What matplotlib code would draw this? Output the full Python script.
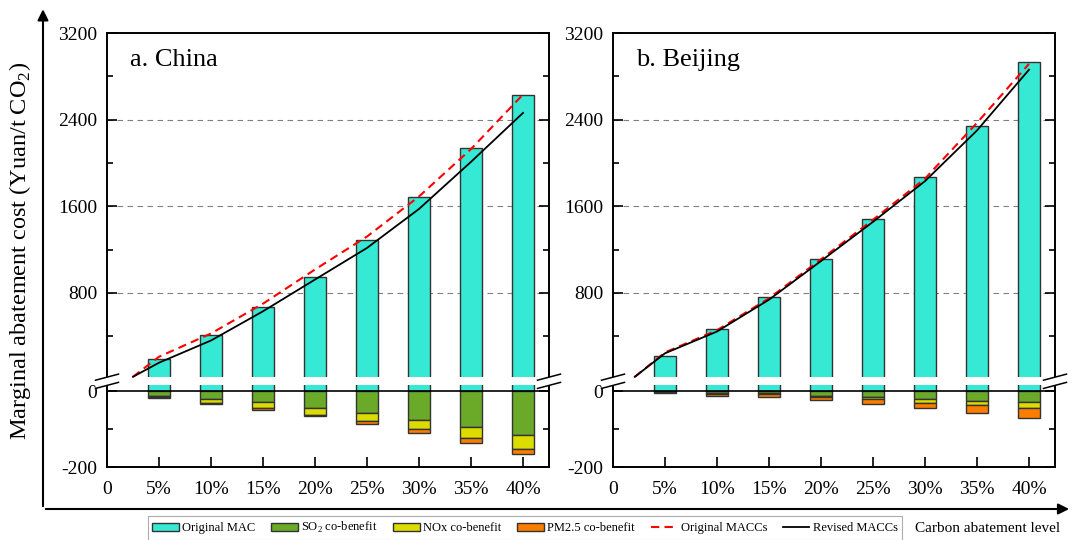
import numpy as np
import matplotlib.pyplot as plt
from matplotlib.patches import Patch, FancyArrowPatch, Polygon
from matplotlib.lines import Line2D

plt.rcParams['font.family'] = ['Liberation Serif', 'DejaVu Serif']
plt.rcParams['mathtext.fontset'] = 'custom'
plt.rcParams['mathtext.rm'] = 'Liberation Serif'

# ---- data ----
levels = np.array([5, 10, 15, 20, 25, 30, 35, 40])
level_labels = ['0', '5%', '10%', '15%', '20%', '25%', '30%', '35%', '40%']

china_mac = np.array([188, 415, 668, 950, 1292, 1686, 2138, 2630])
china_so2 = np.array([-12, -22, -30, -45, -58, -76, -94, -116])
china_nox = np.array([-4, -10, -15, -17, -20, -24, -29, -37])
china_pm = np.array([-3, -3, -4, -3, -9, -10, -13, -14])
china_cx = [2.5, 5, 10, 15, 20, 25, 30, 35, 40]
china_orig = [25, 210, 425, 700, 1016, 1320, 1690, 2128, 2632]
china_rev = [25, 155, 360, 630, 923, 1215, 1575, 2010, 2462]

bj_mac = np.array([218, 465, 765, 1109, 1484, 1869, 2345, 2930])
bj_so2 = np.array([-2, -4, -5, -12, -15, -20, -25, -30])
bj_nox = np.array([-1, -3, -4, -5, -7, -11, -13, -16])
bj_pm = np.array([-2, -5, -8, -7, -11, -13, -19, -25])
bj_cx = [2.1, 5, 10, 15, 20, 25, 30, 35, 40]
bj_orig = [25, 250, 455, 750, 1110, 1475, 1855, 2370, 2915]
bj_rev = [25, 242, 443, 737, 1094, 1456, 1832, 2300, 2861]

c_mac = '#35E9D4'
c_so2 = '#6BAA28'
c_nox = '#DCDC00'
c_pm = '#FA7D00'
edge = '#333333'

# ---- broken y axis as a piecewise linear scale (units = pixels) ----
H = 434.0
K_LOW = 0.38
LB, UB = 15.0, 23.0
P_LB = (LB + 200) * K_LOW
P_UB = 90.0
K_UP = (H - P_UB) / (3200 - UB)


def fwd(y):
    y = np.asarray(y, dtype=float)
    low = (y + 200) * K_LOW
    mid = P_LB + (y - LB) * (P_UB - P_LB) / (UB - LB)
    up = P_UB + (y - UB) * K_UP
    return np.where(y <= LB, low, np.where(y < UB, mid, up))


def inv(p):
    p = np.asarray(p, dtype=float)
    low = p / K_LOW - 200
    mid = LB + (p - P_LB) * (UB - LB) / (P_UB - P_LB)
    up = UB + (p - P_UB) / K_UP
    return np.where(p <= P_LB, low, np.where(p < P_UB, mid, up))


def break_marks(ax, xc):
    # two slanted strokes over the spine, white between them
    dx, rise = 0.026, 0.014
    y1, y2 = 0.200, 0.181
    poly = Polygon([[xc - dx, y1], [xc + dx, y1 + rise], [xc + dx, y2 + rise], [xc - dx, y2]],
                   closed=True, facecolor='white', edgecolor='none',
                   transform=ax.transAxes, clip_on=False, zorder=5)
    ax.add_patch(poly)
    for y0 in (y1, y2):
        ax.plot([xc - dx, xc + dx], [y0, y0 + rise], color='black', lw=1.1,
                transform=ax.transAxes, clip_on=False, zorder=6)


def panel(ax, title, mac, so2, nox, pm, cx, orig, rev):
    ax.set_yscale('function', functions=(fwd, inv))
    ax.set_xlim(0, 42.5)
    ax.set_ylim(-200, 3200)

    w = 2.1
    ax.bar(levels, mac, width=w, color=c_mac, edgecolor=edge, lw=1, zorder=2)
    ax.bar(levels, so2, width=w, color=c_so2, edgecolor=edge, lw=1, zorder=2)
    ax.bar(levels, nox, bottom=so2, width=w, color=c_nox, edgecolor=edge, lw=1, zorder=2)
    ax.bar(levels, pm, bottom=so2 + nox, width=w, color=c_pm, edgecolor=edge, lw=1, zorder=2)

    # white gap of the axis break through the bars
    ax.axhspan(LB, UB, color='white', lw=0, zorder=2.2)

    ax.plot(cx, orig, color='red', lw=1.5, dashes=(4, 2.5), zorder=4)
    ax.plot(cx, rev, color='black', lw=1.3, zorder=4)

    ax.axhline(0, color='black', lw=1.2, zorder=3)
    for g in (800, 1600, 2400):
        ax.axhline(g, color='#808080', lw=0.8, ls=(0, (5, 4)), zorder=1)

    ax.set_yticks([-200, 0, 800, 1600, 2400, 3200])
    ax.set_yticklabels(['-200', '0', '800', '1600', '2400', '3200'])
    ax.set_yticks([-100, 400, 1200, 2000, 2800], minor=True)
    ax.set_xticks([0] + list(levels))
    ax.set_xticklabels(level_labels)
    ax.tick_params(axis='y', which='both', direction='in', left=True, right=True,
                   labelsize=14, pad=7, width=1.2)
    ax.tick_params(axis='y', which='major', length=7)
    ax.tick_params(axis='y', which='minor', length=4.5)
    ax.tick_params(axis='x', direction='in', length=7, width=1.2, labelsize=14, pad=10)
    for s in ax.spines.values():
        s.set_linewidth(1.4)

    ax.text(0.052, 0.962, title, transform=ax.transAxes, fontsize=19, va='top', ha='left')
    break_marks(ax, 0.0)
    break_marks(ax, 1.0)


fig = plt.figure(figsize=(10.73, 5.40), dpi=100)
ax1 = fig.add_axes([107 / 1073, 73 / 540, 442 / 1073, H / 540])
ax2 = fig.add_axes([613 / 1073, 73 / 540, 442 / 1073, H / 540])

panel(ax1, 'a. China', china_mac, china_so2, china_nox, china_pm, china_cx, china_orig, china_rev)
panel(ax2, 'b. Beijing', bj_mac, bj_so2, bj_nox, bj_pm, bj_cx, bj_orig, bj_rev)

# outer arrow frame
y_base = (540 - 509) / 540
x_base = 43 / 1073
fig.add_artist(FancyArrowPatch((x_base, y_base), (x_base, 0.988), transform=fig.transFigure,
                               arrowstyle='-|>', mutation_scale=16, lw=1.5, color='black'))
fig.add_artist(FancyArrowPatch((x_base, y_base), (0.999, y_base), transform=fig.transFigure,
                               arrowstyle='-|>', mutation_scale=16, lw=1.5, color='black'))

fig.text(20 / 1073, 1 - 251 / 540, 'Marginal abatement cost (Yuan/t CO$_{2}$)',
         rotation=90, ha='center', va='center', fontsize=17.5)
fig.text(988 / 1073, 1 - 528 / 540, 'Carbon abatement level', ha='center', va='center',
         fontsize=11)

handles = [Patch(facecolor=c_mac, edgecolor=edge),
           Patch(facecolor=c_so2, edgecolor=edge),
           Patch(facecolor=c_nox, edgecolor=edge),
           Patch(facecolor=c_pm, edgecolor=edge),
           Line2D([], [], color='red', lw=1.5, dashes=(4, 2.5)),
           Line2D([], [], color='black', lw=1.3)]
labels = ['Original MAC', 'SO$_{2}$ co-benefit', 'NOx co-benefit', 'PM2.5 co-benefit',
          'Original MACCs', 'Revised MACCs']
leg = fig.legend(handles, labels, ncol=6, loc='upper left',
                 bbox_to_anchor=(148 / 1073, 1 - 516 / 540), fontsize=9,
                 frameon=True, fancybox=False, edgecolor='#999999',
                 handlelength=2.1, handletextpad=0.3, columnspacing=1.25,
                 borderpad=0.35, borderaxespad=0)
leg.get_frame().set_linewidth(0.8)

plt.savefig('out.png', dpi=100)
